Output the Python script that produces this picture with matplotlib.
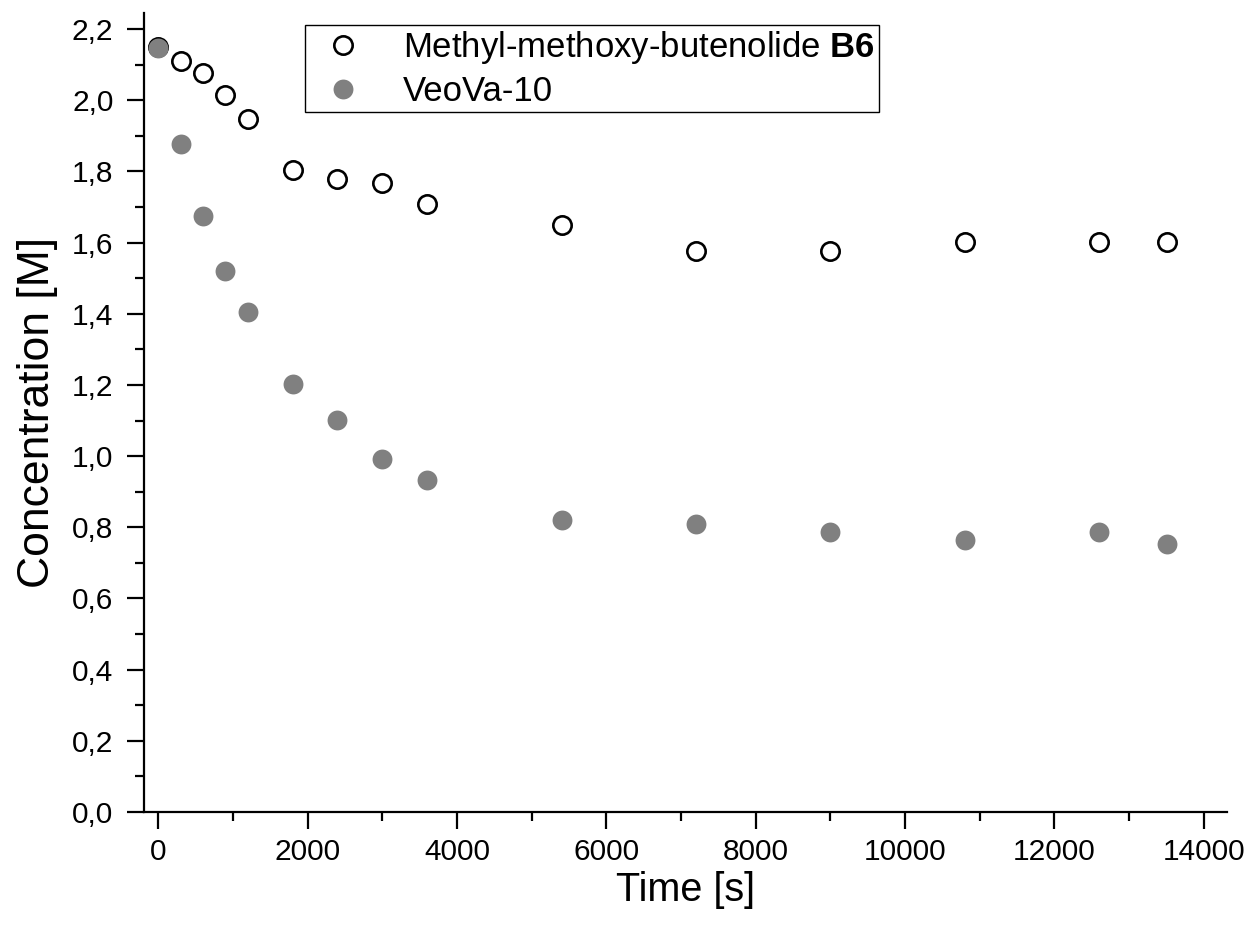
import matplotlib
matplotlib.use("Agg")
import matplotlib.pyplot as plt
from matplotlib.ticker import MultipleLocator, FuncFormatter

plt.rcParams['font.family'] = ['Liberation Sans', 'DejaVu Sans']
plt.rcParams['mathtext.fontset'] = 'custom'
plt.rcParams['mathtext.rm'] = 'Liberation Sans'
plt.rcParams['mathtext.bf'] = 'Liberation Sans:bold'

time_b6 = [0, 300, 600, 900, 1200, 1800, 2400, 3000, 3600, 5400, 7200, 9000, 10800, 12600, 13500]
conc_b6 = [2.15, 2.110, 2.076, 2.015, 1.947, 1.804, 1.779, 1.767, 1.708, 1.649, 1.576, 1.576, 1.602, 1.602, 1.602]
time_veova = [0, 300, 600, 900, 1200, 1800, 2400, 3000, 3600, 5400, 7200, 9000, 10800, 12600, 13500]
conc_veova = [2.147, 1.877, 1.675, 1.520, 1.405, 1.203, 1.101, 0.992, 0.933, 0.820, 0.809, 0.787, 0.764, 0.787, 0.753]

W, H = 1252, 935
fig = plt.figure(figsize=(W / 100, H / 100), dpi=100)
ax = fig.add_axes([144 / W, 1 - 812 / H, (1227 - 144) / W, (812 - 13) / H])

ax.plot(time_b6, conc_b6, linestyle='none', marker='o', ms=13.2, mfc='white',
        mec='black', mew=1.9, label=r'Methyl-methoxy-butenolide $\mathbf{B6}$', zorder=3)
ax.plot(time_veova, conc_veova, linestyle='none', marker='o', ms=14.3, mfc='#808080',
        mec='#808080', mew=0, label='VeoVa-10', zorder=4)

ax.set_xlim(-190, 14310)
ax.set_ylim(0, 2.245)

for s in ['top', 'right']:
    ax.spines[s].set_visible(False)
for s in ['left', 'bottom']:
    ax.spines[s].set_linewidth(1.6)

ax.xaxis.set_major_locator(MultipleLocator(2000))
ax.xaxis.set_minor_locator(MultipleLocator(1000))
ax.yaxis.set_major_locator(MultipleLocator(0.2))
ax.yaxis.set_minor_locator(MultipleLocator(0.1))
ax.yaxis.set_major_formatter(FuncFormatter(lambda v, p: f"{v:.1f}".replace('.', ',')))

ax.tick_params(which='major', direction='out', length=12, width=1.6, labelsize=21.5, pad=7)
ax.tick_params(axis='y', which='major', pad=10)
ax.tick_params(which='minor', direction='out', length=6.5, width=1.6)

ax.set_xlabel('Time [s]', fontsize=28.5, labelpad=3)
ax.set_ylabel('Concentration [M]', fontsize=32, labelpad=10)

leg = ax.legend(loc='upper left', bbox_to_anchor=(305 / W, 1 - 25 / H),
                bbox_transform=fig.transFigure, borderaxespad=0, fontsize=25,
                fancybox=False, framealpha=1, edgecolor='black', handletextpad=0.75,
                borderpad=0.12, labelspacing=0.25, handlelength=1.95)
leg.get_frame().set_linewidth(1.0)

fig.savefig('out.png', dpi=100)
